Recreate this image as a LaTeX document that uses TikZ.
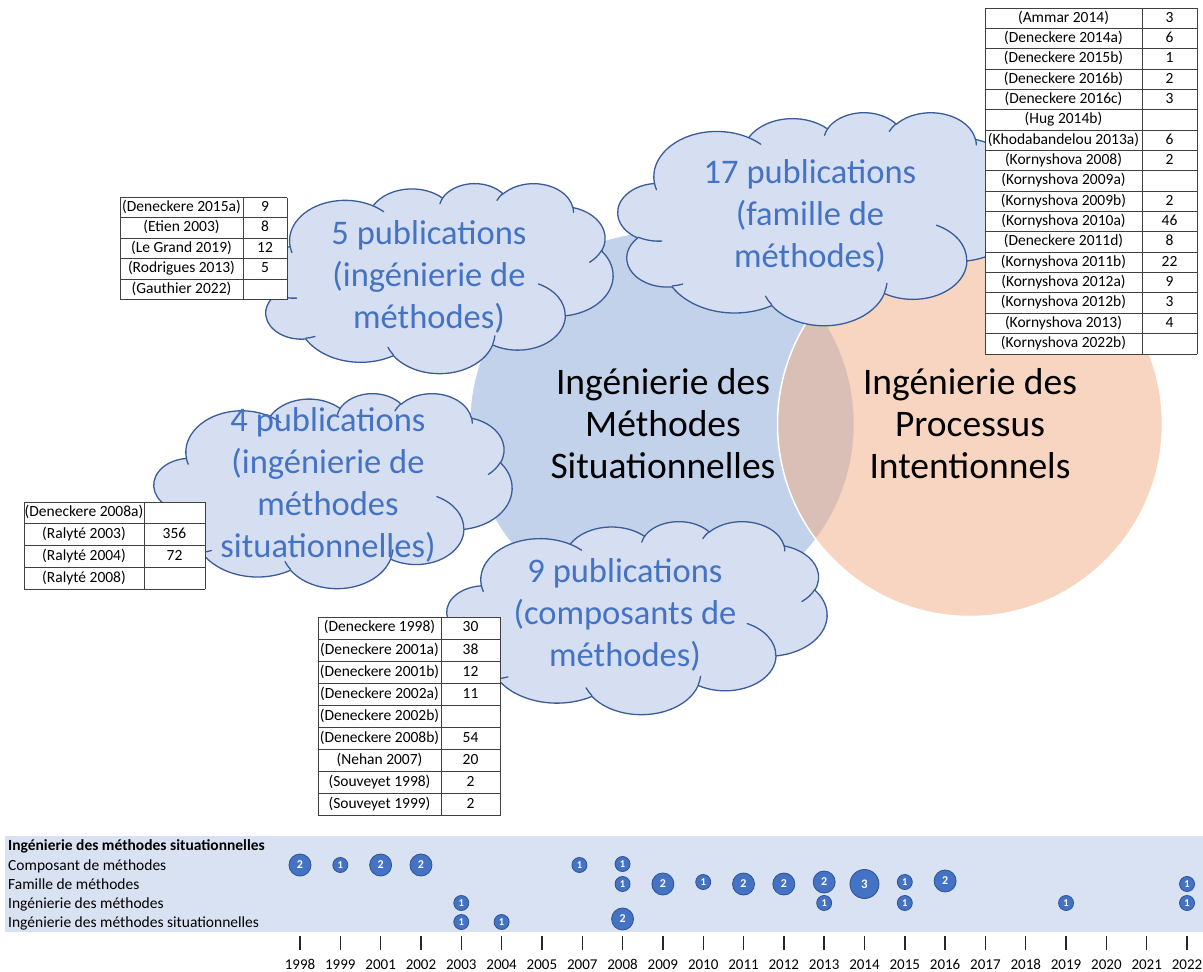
\documentclass[tikz,border=0pt]{standalone}
\usepackage{fontspec}
\setmainfont{Carlito}
\definecolor{circblue}{HTML}{C3D2EB}
\definecolor{circorange}{HTML}{F1AE86}
\definecolor{cloudbg}{HTML}{D5DFF1}
\definecolor{cloudedge}{HTML}{3A5C99}
\definecolor{cloudtext}{HTML}{4472C4}
\definecolor{bandbg}{HTML}{D9E2F3}
\definecolor{bubfill}{HTML}{4472C4}
\definecolor{bubedge}{HTML}{2F528F}
% visual (DrawingML) angle -> parametric angle arc
\newcommand\setpa[5]{%
  \pgfmathsetmacro\tmpA{atan2((#2)*sin(#4),(#3)*cos(#4))-(#4)}%
  \pgfmathsetmacro\tmpS{(#4)+(\tmpA)-360*round((\tmpA)/360)}%
  \pgfmathsetmacro\tmpB{atan2((#2)*sin((#4)+(#5)),(#3)*cos((#4)+(#5)))-((#4)+(#5))}%
  \pgfmathsetmacro\tmpE{(#4)+(#5)+(\tmpB)-360*round((\tmpB)/360)}%
  \expandafter\xdef\csname #1\endcsname{arc[start angle=\tmpS, end angle=\tmpE, x radius=#2, y radius=#3]}%
}
\setpa{arcA}{67.53}{91.90}{-190.4875}{123.7805}
\setpa{arcB}{53.33}{72.67}{-144.1024}{89.9452}
\setpa{arcC}{43.65}{59.45}{-145.8079}{99.7230}
\setpa{arcD}{48.57}{65.95}{-130.9861}{117.2417}
\setpa{arcE}{53.33}{72.73}{-78.7089}{109.0269}
\setpa{arcF}{67.75}{92.20}{-46.2673}{130.2690}
\setpa{arcG}{57.85}{78.67}{0.6250}{114.0333}
\setpa{arcH}{67.52}{92.15}{22.4516}{115.1726}
\setpa{arcI}{77.20}{105.43}{66.2426}{75.7110}
\setpa{arcJ}{43.60}{59.18}{-274.9421}{146.7356}
\setpa{arcK}{43.45}{59.45}{-246.8285}{152.5189}
\setpa{inA}{43.45}{59.45}{86.7420}{26.4295}
\setpa{inB}{43.60}{59.18}{73.6105}{11.4475}
\setpa{inC}{67.52}{92.15}{137.6242}{14.0811}
\setpa{inD}{67.52}{92.15}{6.4533}{15.9984}
\setpa{inE}{57.85}{78.67}{-70.2924}{70.9174}
\setpa{inF}{53.33}{72.73}{30.3180}{27.7515}
\setpa{inG}{48.57}{65.95}{-13.7443}{14.8589}
\setpa{inH}{48.57}{65.95}{-149.1815}{18.1954}
\setpa{inI}{43.65}{59.45}{-163.4943}{17.6864}
\setpa{inJ}{67.53}{91.90}{-66.7070}{12.3194}
\setpa{inK}{67.53}{91.90}{157.6544}{11.8582}
\newcommand\pptcloud[4]{%
  \begin{scope}[shift={(#1,#2)}, xscale={#3/432}, yscale={#4/432}]
    \path[cloudfill] (39,143.7) \arcA \arcB \arcC \arcD \arcE \arcF \arcG \arcH \arcI \arcJ \arcK -- cycle;
    \path[cloudline] (46.93,261.77) \inA (69.28,348.99) \inB (164.78,390.90) \inC
      (288.27,347.51) \inD (341.29,229.54) \inE (417.98,153.54) \inF (383.24,54.26) \inG
      (290.78,39.52) \inH (221.41,47.20) \inI (140.00,51.92) \inJ (41.27,157.89) \inK;
  \end{scope}}
\newcommand\pubtable[8]{%
  \fill[white] (#2,#5) rectangle (#4,{#5+#7*#6});
  \foreach \lab/\num [count=\i] in {#8}{%
    \node[celltxt] (#1-\i-l) at ({(#2+#3)/2},{#5+(\i-0.5)*#6}) {\lab};
    \node[celltxt] (#1-\i-r) at ({(#3+#4)/2},{#5+(\i-0.5)*#6}) {\num};
  }
  \foreach \k in {0,...,#7} \draw[tabline] (#2,{#5+\k*#6}) -- (#4,{#5+\k*#6});
  \draw[tabline] (#2,#5) -- (#2,{#5+#7*#6}) (#3,#5) -- (#3,{#5+#7*#6}) (#4,#5) -- (#4,{#5+#7*#6});
}
\newcommand\bub[4]{\node[bubble#4] (#1) at ({300+40.32*#2},#3) {#4};}
\begin{document}
\begin{tikzpicture}[x=1pt,y=-1pt,
  tabline/.style={draw=black!75, line width=0.9pt},
  celltxt/.style={inner sep=0pt, text height=11.5pt, text depth=3.8pt, font=\fontsize{15.5}{18}\selectfont},
  cloudfill/.style={fill=cloudbg, draw=cloudedge, line width=1.3pt, line join=round},
  cloudline/.style={draw=cloudedge, line width=1.3pt, line cap=round},
  cloudtxt/.style={text=cloudtext, align=center, font=\fontsize{34.5}{42}\selectfont, inner sep=0pt},
  venntxt/.style={align=center, font=\fontsize{37.5}{42}\selectfont, inner sep=0pt},
  rowtxt/.style={anchor=base west, inner sep=0pt, font=\fontsize{15.5}{18}\selectfont},
  yeartxt/.style={anchor=base, inner sep=0pt, font=\fontsize{15}{18}\selectfont},
  tickmark/.style={draw=black!85, line width=1.4pt},
  bubbase/.style={circle, fill=bubfill, draw=bubedge, line width=0.8pt, inner sep=0pt, text=white},
  bubble1/.style={bubbase, minimum size=15, font=\fontsize{10.5}{11}\selectfont\bfseries},
  bubble2/.style={bubbase, minimum size=22, font=\fontsize{12}{12}\selectfont\bfseries},
  bubble3/.style={bubbase, minimum size=29, font=\fontsize{13}{13}\selectfont\bfseries}]
\useasboundingbox (0,0) rectangle (1203,972);
% Venn circles
\node[circle, minimum size=385, inner sep=0pt, fill=circblue, draw=white, line width=1.5pt] (ism) at (662,424) {};
\node[circle, minimum size=385, inner sep=0pt, fill=circorange, fill opacity=0.52, draw=white, draw opacity=1, line width=1.5pt] (ipi) at (970,424) {};
\node[venntxt] (ismtxt) at (663,424) {Ingénierie des\\Méthodes\\Situationnelles};
\node[venntxt] (ipitxt) at (970,424) {Ingénierie des\\Processus\\Intentionnels};
% clouds
\pptcloud{258}{183}{355}{190}
\pptcloud{618}{112}{403}{213}
\pptcloud{154}{393}{358}{195}
\pptcloud{447}{521}{380}{193}
\node[cloudtxt] (c1txt) at (429,277) {5 publications\\(ingénierie de\\méthodes)};
\node[cloudtxt] (c2txt) at (810,216) {17 publications\\(famille de\\méthodes)};
\node[cloudtxt] (c3txt) at (328,485) {4 publications\\(ingénierie de\\méthodes\\situationnelles)};
\node[cloudtxt] (c4txt) at (625,615) {9 publications\\(composants de\\méthodes)};
% tables
\pubtable{tr}{985}{1142}{1197}{8}{20.35}{17}{(Ammar 2014)/3,(Deneckere 2014a)/6,(Deneckere 2015b)/1,(Deneckere 2016b)/2,(Deneckere 2016c)/3,(Hug 2014b)/{},(Khodabandelou 2013a)/6,(Kornyshova 2008)/2,(Kornyshova 2009a)/{},(Kornyshova 2009b)/2,(Kornyshova 2010a)/46,(Deneckere 2011d)/8,(Kornyshova 2011b)/22,(Kornyshova 2012a)/9,(Kornyshova 2012b)/3,(Kornyshova 2013)/4,(Kornyshova 2022b)/{}}
\pubtable{ta}{120}{243}{287}{197.5}{20.4}{5}{(Deneckere 2015a)/9,(Etien 2003)/8,(Le Grand 2019)/12,(Rodrigues 2013)/5,(Gauthier 2022)/{}}
\pubtable{tb}{24}{144}{205}{502}{21.8}{4}{(Deneckere 2008a)/{},(Ralyté 2003)/356,(Ralyté 2004)/72,(Ralyté 2008)/{}}
\pubtable{tc}{318}{441}{500}{617}{22.1}{9}{(Deneckere 1998)/30,(Deneckere 2001a)/38,(Deneckere 2001b)/12,(Deneckere 2002a)/11,(Deneckere 2002b)/{},(Deneckere 2008b)/54,(Nehan 2007)/20,(Souveyet 1998)/2,(Souveyet 1999)/2}
% timeline
\fill[bandbg] (5,836) rectangle (1203,932);
\node[rowtxt, font=\fontsize{15.5}{18}\selectfont\bfseries] (tl-title) at (8,850) {Ingénierie des méthodes situationnelles};
\node[rowtxt] (tl-comp) at (8,870) {Composant de méthodes};
\node[rowtxt] (tl-fam) at (8,889) {Famille de méthodes};
\node[rowtxt] (tl-im) at (8,908) {Ingénierie des méthodes};
\node[rowtxt] (tl-ism) at (8,927) {Ingénierie des méthodes situationnelles};
\foreach \yr [count=\i from 0] in {1998,1999,2001,2002,2003,2004,2005,2007,2008,2009,2010,2011,2012,2013,2014,2015,2016,2017,2018,2019,2020,2021,2022}{
  \draw[tickmark] ({300+40.32*\i},936) -- ({300+40.32*\i},950);
  \node[yeartxt] (yr-\yr) at ({300+40.32*\i},969.5) {\yr};
}
% bubbles: composants
\bub{bc98}{0}{865}{2}
\bub{bc99}{1}{865}{1}
\bub{bc01}{2}{865}{2}
\bub{bc02}{3}{865}{2}
\bub{bc07}{6.93}{865}{1}
\bub{bc08}{8}{864}{1}
% famille
\bub{bf08}{8}{884}{1}
\bub{bf09}{9}{884}{2}
\bub{bf10}{10}{882}{1}
\bub{bf11}{11}{884}{2}
\bub{bf12}{12}{884}{2}
\bub{bf13}{13}{882}{2}
\bub{bf14}{14}{884}{3}
\bub{bf15}{15}{882}{1}
\bub{bf16}{16}{881}{2}
\bub{bf22}{22}{884}{1}
% ingenierie des methodes
\bub{bi03}{4}{903}{1}
\bub{bi13}{13}{903}{1}
\bub{bi15}{15}{903}{1}
\bub{bi19}{19}{903}{1}
\bub{bi22}{22}{903}{1}
% ingenierie des methodes situationnelles
\bub{bs03}{4}{922}{1}
\bub{bs04}{5}{922}{1}
\bub{bs08}{8}{919}{2}
\end{tikzpicture}
\end{document}
